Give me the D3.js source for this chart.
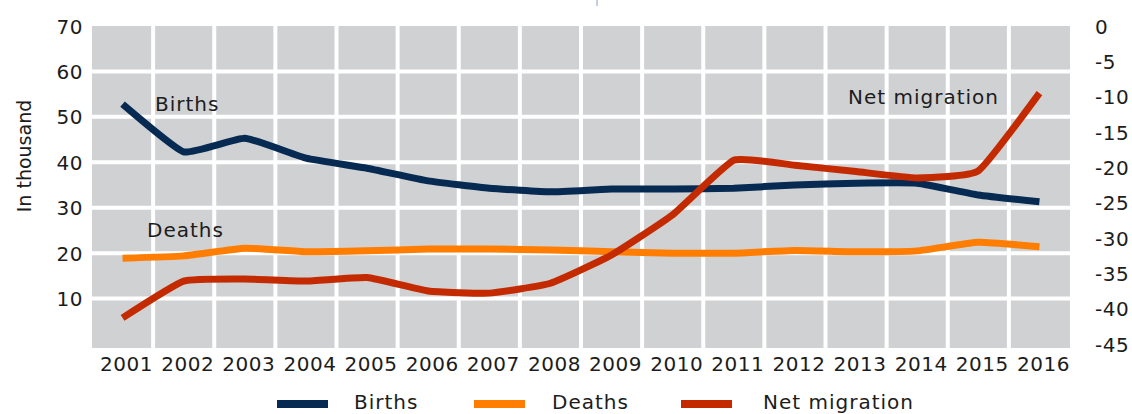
<!DOCTYPE html>
<html>
<head>
<meta charset="utf-8">
<script src="https://cdn.jsdelivr.net/npm/d3@7"></script>
<style>
  html, body { margin: 0; padding: 0; background: #ffffff; }
  svg { display: block; }
  text { font-family: "DejaVu Sans", Verdana, sans-serif; fill: #1c1c1c; }
</style>
</head>
<body>
<div id="chart"></div>
<script>
'use strict';

// data (thousands)
var years = ["2001", "2002", "2003", "2004", "2005", "2006", "2007", "2008",
             "2009", "2010", "2011", "2012", "2013", "2014", "2015", "2016"];
var births = [52.8, 42.3, 45.3, 40.9, 38.7, 35.9, 34.3, 33.5, 34.1, 34.1, 34.3, 35.0, 35.4, 35.4, 32.8, 31.3];
var deaths = [18.9, 19.4, 21.1, 20.3, 20.5, 20.9, 20.9, 20.7, 20.3, 20.0, 20.0, 20.6, 20.3, 20.5, 22.4, 21.4];
var netMigration = [-41.3, -36.1, -35.8, -36.1, -35.6, -37.5, -37.8, -36.4, -32.4, -26.7, -19.0, -19.7, -20.6, -21.5, -20.5, -9.5];
var leftTicks = [10, 20, 30, 40, 50, 60, 70];
var rightTicks = [0, -5, -10, -15, -20, -25, -30, -35, -40, -45];
var seriesNames = ["Births", "Deaths", "Net migration"];

/******************** dimensions ********************/
var width = 1132, height = 414;
var plotLeft = 92, plotRight = 1070, plotTop = 26, plotBottom = 344;

var svg = d3.select("#chart").append("svg")
  .attr("width", width).attr("height", height);

var x = d3.scaleBand().domain(years).range([plotLeft, plotRight]).padding(0);
var yLeft = d3.scaleLinear().domain([0, 70]).range([plotBottom, plotTop]);
var yRight = d3.scaleLinear().domain([-45, 0]).range([plotBottom, plotTop]);
var cx = function(d) { return x(d) + x.bandwidth() / 2; };

/******************** background + grid ********************/
svg.append("rect")
  .attr("x", plotLeft).attr("y", plotTop)
  .attr("width", plotRight - plotLeft).attr("height", plotBottom - plotTop + 4)
  .style("fill", "#d0d1d3");

svg.append("g").selectAll("line")
  .data(leftTicks.filter(function(t) { return t < 70; }))
  .enter().append("line")
  .attr("x1", plotLeft).attr("x2", plotRight)
  .attr("y1", function(d) { return yLeft(d); })
  .attr("y2", function(d) { return yLeft(d); })
  .style("stroke", "#ffffff").style("stroke-width", 4);

svg.append("g").selectAll("line")
  .data(years.slice(1))
  .enter().append("line")
  .attr("x1", function(d) { return x(d); }).attr("x2", function(d) { return x(d); })
  .attr("y1", plotTop).attr("y2", plotBottom + 4)
  .style("stroke", "#ffffff").style("stroke-width", 4);

// small stray mark at the top of the original
svg.append("line")
  .attr("x1", 597).attr("x2", 597).attr("y1", 0).attr("y2", 6)
  .style("stroke", "#c8cfdc").style("stroke-width", 2);

/******************** axes ********************/
function styleTicks(g, dy) {
  g.select(".domain").remove();
  g.selectAll("text")
    .style("font-size", "20px")
    .style("font-family", "DejaVu Sans, sans-serif")
    .style("letter-spacing", "0.5px")
    .attr("fill", "#1c1c1c")
    .attr("dy", dy);
}

var axisLeft = d3.axisLeft(yLeft).tickValues(leftTicks).tickSize(0).tickPadding(0);
var gl = svg.append("g").attr("transform", "translate(83,0)").call(axisLeft);
styleTicks(gl, "0.35em");

var axisRight = d3.axisRight(yRight).tickValues(rightTicks).tickSize(0).tickPadding(0)
  .tickFormat(function(d) { return d === 0 ? "0" : "-" + Math.abs(d); });
var gr = svg.append("g").attr("transform", "translate(1095,0)").call(axisRight);
styleTicks(gr, "0.35em");

var axisBottom = d3.axisBottom(x).tickSize(0).tickPadding(0);
var gb = svg.append("g").attr("transform", "translate(4,357)").call(axisBottom);
styleTicks(gb, "0.71em");

svg.append("text")
  .attr("transform", "translate(31,156) rotate(-90)")
  .attr("text-anchor", "middle")
  .style("font-size", "19px")
  .text("In thousand");

/******************** lines ********************/
var curve = d3.curveCardinal.tension(0.6);
var lineLeft = d3.line()
  .x(function(d, i) { return cx(years[i]); })
  .y(function(d) { return yLeft(d); })
  .curve(curve);
var lineRight = d3.line()
  .x(function(d, i) { return cx(years[i]); })
  .y(function(d) { return yRight(d); })
  .curve(curve);

var colors = ["#062a52", "#ff7d00", "#c42a00"];

svg.append("path").datum(births).attr("d", lineLeft)
  .style("fill", "none").style("stroke", colors[0]).style("stroke-width", 7);
svg.append("path").datum(deaths).attr("d", lineLeft)
  .style("fill", "none").style("stroke", colors[1]).style("stroke-width", 7);
svg.append("path").datum(netMigration).attr("d", lineRight)
  .style("fill", "none").style("stroke", colors[2]).style("stroke-width", 7);

/******************** labels in plot ********************/
function plotLabel(txt, px, py) {
  svg.append("text").attr("x", px).attr("y", py)
    .style("font-size", "20px").style("letter-spacing", "1px")
    .text(txt);
}
plotLabel(seriesNames[0], 155, 111);
plotLabel(seriesNames[1], 147, 237);
plotLabel(seriesNames[2], 848, 104);

/******************** legend ********************/
var legendItems = [
  { name: seriesNames[0], color: colors[0], lx: 277, tx: 354 },
  { name: seriesNames[1], color: colors[1], lx: 474, tx: 552 },
  { name: seriesNames[2], color: colors[2], lx: 681, tx: 763 }
];
var legend = svg.append("g").attr("class", "legend");
legendItems.forEach(function(item) {
  legend.append("line")
    .attr("x1", item.lx).attr("x2", item.lx + 51)
    .attr("y1", 404).attr("y2", 404)
    .style("stroke", item.color).style("stroke-width", 8);
  legend.append("text")
    .attr("x", item.tx).attr("y", 409)
    .style("font-size", "20px").style("letter-spacing", "1px")
    .text(item.name);
});
</script>
</body>
</html>
